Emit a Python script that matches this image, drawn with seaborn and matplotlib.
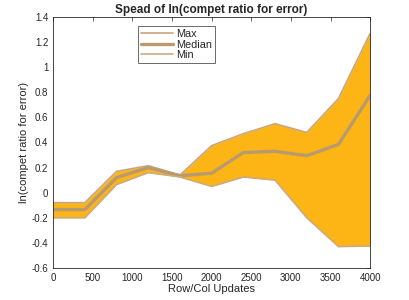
import numpy as np
import pandas as pd
import seaborn as sns
import matplotlib
matplotlib.use("Agg")
import matplotlib.pyplot as plt

# values
updates = [0, 400, 800, 1200, 1600, 2000, 2400, 2800, 3200, 3600, 4000]
max_vals = [-0.08, -0.08, 0.17, 0.215, 0.14, 0.375, 0.47, 0.55, 0.48, 0.75, 1.27]
median_vals = [-0.135, -0.135, 0.12, 0.2, 0.135, 0.155, 0.32, 0.33, 0.295, 0.385, 0.775]
min_vals = [-0.2, -0.2, 0.065, 0.16, 0.125, 0.05, 0.125, 0.1, -0.2, -0.43, -0.425]

df = pd.DataFrame({"updates": updates, "Max": max_vals,
                   "Median": median_vals, "Min": min_vals})

sns.set_style("white")
plt.rcParams['font.family'] = ['Liberation Sans', 'DejaVu Sans']

fig = plt.figure(figsize=(4.09, 3.0), dpi=100)
ax = fig.add_axes([0.13, 0.107, 0.775, 0.836])

ax.fill_between(df["updates"], df["Min"], df["Max"], color="#FDB515", lw=0)
sns.lineplot(data=df, x="updates", y="Max", ax=ax, color="#C9A67C", lw=1.2, label="Max")
sns.lineplot(data=df, x="updates", y="Median", ax=ax, color="#B99A6E", lw=2.4, label="Median")
sns.lineplot(data=df, x="updates", y="Min", ax=ax, color="#CDAA80", lw=1.2, label="Min")

ax.set_xlim(0, 4000)
ax.set_ylim(-0.6, 1.4)
ax.set_xticks(np.arange(0, 4001, 500))
yt = np.round(np.arange(-0.6, 1.41, 0.2), 1)
ax.set_yticks(yt)
ax.set_yticklabels([f"{v:g}" for v in yt])
ax.tick_params(direction="in", length=3, width=0.5, labelsize=7, top=True, right=True,
               colors="#262626")
for s in ax.spines.values():
    s.set_linewidth(0.6)
    s.set_color("#262626")

ax.set_title("Spead of ln(compet ratio for error)", fontsize=8.5, fontweight="bold", pad=3)
ax.set_xlabel("Row/Col Updates", fontsize=8, labelpad=1)
ax.set_ylabel("ln(compet ratio for error)", fontsize=8, labelpad=2)

leg = ax.legend(loc="upper left", bbox_to_anchor=(0.25, 0.985), fontsize=7.8,
                frameon=True, fancybox=False, edgecolor="#262626",
                handlelength=3.0, borderpad=0.25, labelspacing=0.05, handletextpad=0.3)
leg.get_frame().set_linewidth(0.6)

fig.savefig("out.png", dpi=100)
